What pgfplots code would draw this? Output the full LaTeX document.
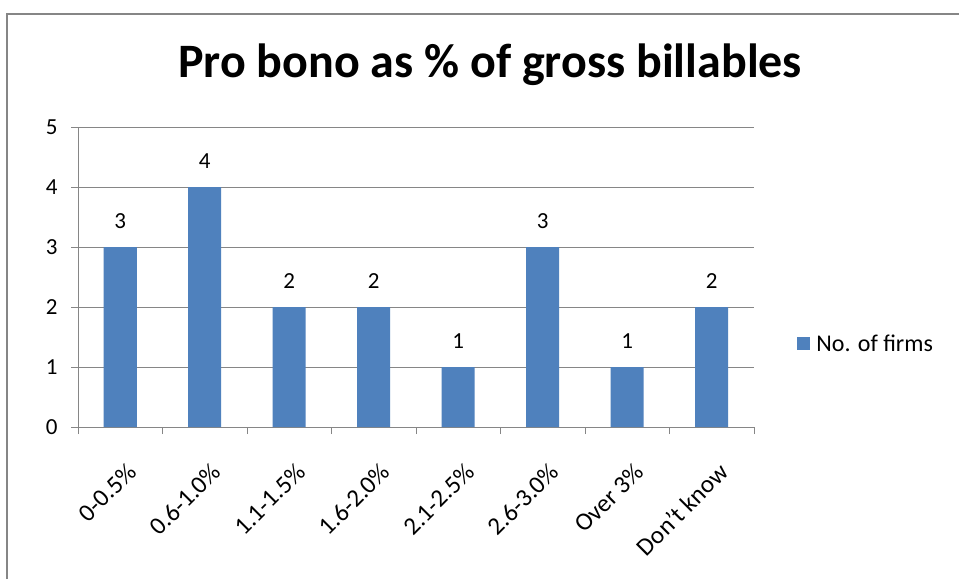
\documentclass[border=0pt]{standalone}
\usepackage{fontspec}
\setmainfont{Carlito}
\usepackage{pgfplots}
\pgfplotsset{compat=1.18}
\definecolor{barblue}{HTML}{4F81BD}
\definecolor{gridgray}{HTML}{868686}
\begin{document}
\begin{tikzpicture}[x=1pt,y=1pt]
\useasboundingbox (0,0) rectangle (959,579);
\fill[white] (0,0) rectangle (959,579);
% chart frame (cropped)
\draw[gridgray, line width=1.8pt] (7,0) -- (7,565) -- (959,565);
\node[font=\fontsize{48}{48}\selectfont\bfseries] at (490,514) {Pro bono as \% of gross billables};
\begin{axis}[
    at={(78pt,152pt)}, anchor=south west,
    scale only axis,
    width=676pt, height=300pt,
    xmin=0, xmax=8, ymin=0, ymax=5,
    axis x line=bottom, axis y line=left,
    axis line style={-, gridgray, line width=0.9pt},
    ytick={0,...,5},
    ymajorgrids=true,
    grid style={gridgray, line width=0.8pt},
    xtick={0.5,1.5,...,7.5},
    xticklabels={0-0.5\%,0.6-1.0\%,1.1-1.5\%,1.6-2.0\%,2.1-2.5\%,2.6-3.0\%,Over 3\%,Don't know},
    minor xtick={0,...,8},
    major x tick style={draw=none},
    minor x tick style={gridgray, line width=0.9pt},
    major y tick style={gridgray, line width=0.9pt},
    tick align=outside,
    major tick length=7pt, minor tick length=7pt,
    /pgf/number format/assume math mode=true,
    ticklabel style={font=\fontsize{23}{23}\selectfont, text=black},
    xticklabel style={font=\fontsize{25}{25}\selectfont, rotate=45, anchor=north east, xshift=-12pt, yshift=-20pt},
    yticklabel style={xshift=-10pt},
    legend style={at={(1.064,0.277)}, anchor=west, draw=none, fill=none,
        font=\fontsize{24}{24}\selectfont, inner sep=0pt},
    legend image code/.code={\fill[barblue] (0pt,-6.5pt) rectangle (13pt,6.5pt);},
    legend cell align=left,
]
\addplot[ybar, bar width=33pt, fill=barblue, draw=none,
    nodes near coords,
    every node near coord/.append style={font=\fontsize{23}{23}\selectfont, text=black, yshift=15pt},
    point meta=y] coordinates {
    (0.5,3) (1.5,4) (2.5,2) (3.5,2) (4.5,1) (5.5,3) (6.5,1) (7.5,2)
};
\addlegendentry{\hspace{4pt}No. of firms}
\end{axis}
\end{tikzpicture}
\end{document}
